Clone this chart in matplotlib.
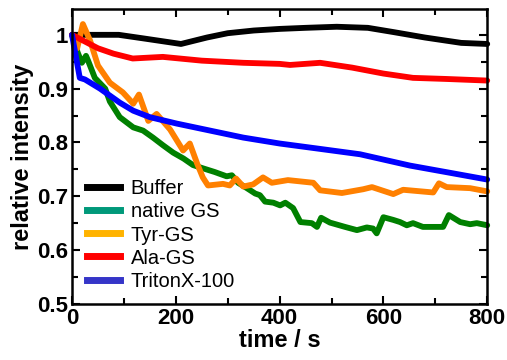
import matplotlib
matplotlib.use("Agg")
import matplotlib.pyplot as plt
from matplotlib.lines import Line2D
from matplotlib.ticker import MultipleLocator, FuncFormatter

plt.rcParams['font.family'] = ['Liberation Sans', 'DejaVu Sans']

# --- data ---
t_buffer = [0, 40, 90, 140, 210, 260, 300, 350, 400, 450, 510, 570, 620, 680, 750, 800]
buffer = [1.0, 1.0, 1.0, 0.993, 0.983, 0.995, 1.003, 1.008, 1.011, 1.013, 1.015, 1.013,
          1.005, 0.995, 0.985, 0.983]

t_native = [0, 11, 19, 27, 31, 44, 64, 73, 92, 118, 137, 156, 175, 195, 215, 233, 252, 275,
            298, 308, 320, 337, 353, 362, 372, 388, 401, 411, 426, 440, 462, 472, 480, 497,
            526, 549, 568, 580, 587, 600, 619, 632, 645, 657, 676, 715, 726, 748, 767, 780, 800]
native = [1.0, 0.967, 0.948, 0.961, 0.952, 0.920, 0.900, 0.876, 0.847, 0.828, 0.822, 0.809,
          0.795, 0.781, 0.770, 0.758, 0.752, 0.745, 0.737, 0.739, 0.725, 0.715, 0.705, 0.702,
          0.690, 0.688, 0.683, 0.688, 0.678, 0.652, 0.650, 0.643, 0.660, 0.651, 0.643, 0.637,
          0.642, 0.640, 0.631, 0.661, 0.656, 0.652, 0.646, 0.650, 0.643, 0.643, 0.665, 0.652,
          0.648, 0.650, 0.646]

t_tyr = [0, 10, 21, 35, 50, 73, 98, 118, 129, 147, 163, 189, 214, 227, 241, 252, 262, 291,
         304, 316, 330, 349, 368, 385, 416, 465, 478, 520, 561, 578, 619, 638, 696, 707, 722,
         767, 800]
tyr = [1.0, 0.975, 1.02, 0.989, 0.943, 0.911, 0.893, 0.872, 0.889, 0.840, 0.853, 0.824,
       0.785, 0.798, 0.761, 0.735, 0.720, 0.723, 0.720, 0.733, 0.718, 0.722, 0.735, 0.725,
       0.730, 0.725, 0.711, 0.706, 0.713, 0.717, 0.704, 0.712, 0.707, 0.724, 0.717, 0.715,
       0.709]

t_ala = [0, 20, 50, 80, 117, 175, 250, 330, 400, 420, 478, 540, 600, 657, 720, 800]
ala = [1.0, 0.99, 0.975, 0.965, 0.956, 0.959, 0.952, 0.948, 0.946, 0.944, 0.948, 0.939,
       0.928, 0.920, 0.918, 0.915]

t_triton = [0, 15, 25, 54, 92, 118, 150, 202, 266, 330, 400, 470, 555, 651, 720, 800]
triton = [1.0, 0.92, 0.917, 0.900, 0.874, 0.859, 0.847, 0.835, 0.822, 0.809, 0.798, 0.789,
          0.778, 0.757, 0.745, 0.731]

labels = ["Buffer", "native GS", "Tyr-GS", "Ala-GS", "TritonX-100"]
line_colors = ["#000000", "#008000", "#FF8000", "#FF0000", "#0000FF"]
legend_colors = ["#000000", "#00997A", "#FFB300", "#FF0000", "#3535C8"]

fig = plt.figure(figsize=(5.07, 3.60), dpi=100)
ax = fig.add_axes([0.142, 0.156, 0.819, 0.819])

series = [(t_buffer, buffer), (t_native, native), (t_tyr, tyr), (t_ala, ala), (t_triton, triton)]
for (t, v), c in zip(series, line_colors):
    ax.plot(t, v, color=c, lw=4.2, solid_joinstyle='round', solid_capstyle='round', clip_on=False)

ax.set_xlim(0, 800)
ax.set_ylim(0.5, 1.048)
ax.xaxis.set_major_locator(MultipleLocator(200))
ax.xaxis.set_minor_locator(MultipleLocator(100))
ax.yaxis.set_major_locator(MultipleLocator(0.1))
ax.yaxis.set_minor_locator(MultipleLocator(0.05))
ax.yaxis.set_major_formatter(FuncFormatter(lambda y, p: "%g" % round(y, 2)))

ax.tick_params(which='both', direction='in', top=True, right=True, width=1.5)
ax.tick_params(which='major', length=6, labelsize=16, pad=3)
ax.tick_params(which='minor', length=4)
for lab in ax.get_xticklabels() + ax.get_yticklabels():
    lab.set_fontweight('bold')
for s in ax.spines.values():
    s.set_linewidth(1.8)

ax.set_xlabel("time / s", fontsize=17, fontweight='bold', labelpad=0)
ax.set_ylabel("relative intensity", fontsize=17, fontweight='bold', labelpad=2)

handles = [Line2D([], [], color=c, lw=5) for c in legend_colors]
ax.legend(handles, labels, loc='lower left', bbox_to_anchor=(0.037, 0.045), frameon=False,
          fontsize=14.5, handlelength=1.6, handletextpad=0.55, labelspacing=0.2,
          borderaxespad=0, borderpad=0)

fig.savefig("out.png", dpi=100)
